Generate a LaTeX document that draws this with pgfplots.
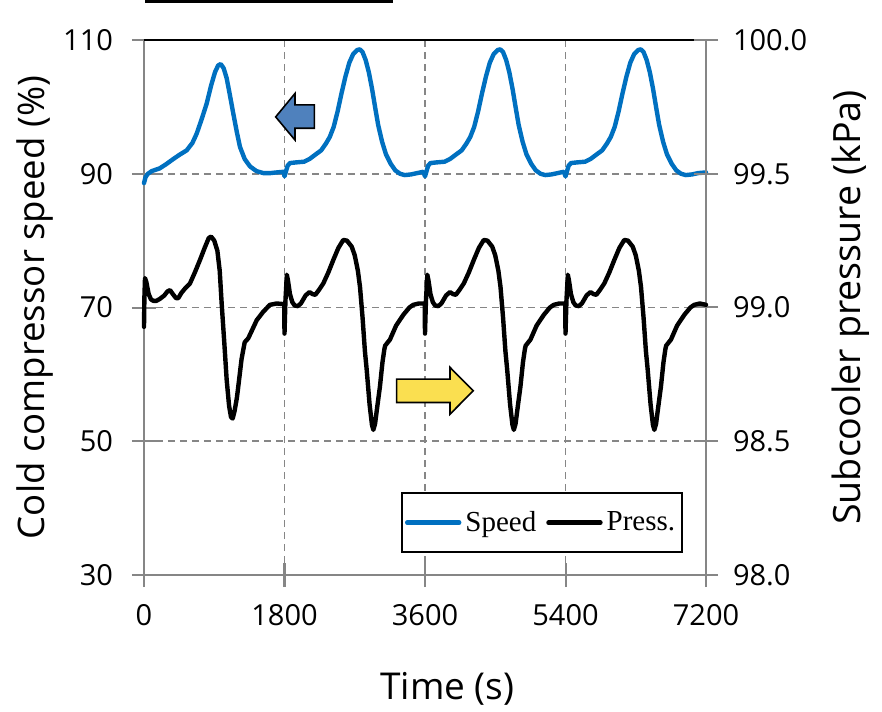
\documentclass[border=0pt]{standalone}
\usepackage{fontspec}
\setmainfont{Open Sans}
\newfontfamily\legendfont{Liberation Serif}
\usepackage{pgfplots}
\usepackage{pgfplotstable}
\pgfplotsset{compat=1.18}

\definecolor{speedblue}{HTML}{0070C0}
\definecolor{framegray}{HTML}{868686}
\definecolor{arrowblue}{HTML}{4F81BD}
\definecolor{arrowyellow}{HTML}{FADF50}

% Cold compressor speed (%) versus time (s)
\pgfplotstableread{
t v
0 88.6
20 89.5
50 90.0
100 90.4
200 90.8
280 91.4
375 92.2
450 92.8
547 93.5
620 94.6
675 96.0
740 98.2
803 100.5
860 103.2
910 105.2
950 106.2
983 106.4
1020 105.8
1059 104.3
1100 101.8
1144 99.0
1190 96.2
1230 94.0
1290 92.2
1358 91.1
1440 90.4
1528 90.1
1620 90.1
1700 90.2
1790 90.3
1800 89.6
1815 90.2
1840 91.2
1870 91.6
1950 91.7
2050 91.8
2120 92.2
2200 92.9
2270 93.5
2330 94.5
2380 95.5
2430 97.0
2480 99.3
2530 102.0
2580 104.5
2630 106.6
2680 107.9
2730 108.5
2765 108.6
2800 108.2
2840 107.0
2880 105.2
2920 102.8
2960 100.0
3000 97.3
3050 94.8
3100 92.9
3160 91.5
3220 90.5
3280 90.0
3340 89.8
3420 89.9
3500 90.1
3580 90.3
3600 89.6
3615 90.2
3640 91.2
3670 91.6
3750 91.7
3850 91.8
3920 92.2
4000 92.9
4070 93.5
4130 94.5
4180 95.5
4230 97.0
4280 99.3
4330 102.0
4380 104.5
4430 106.6
4480 107.9
4530 108.5
4565 108.6
4600 108.2
4640 107.0
4680 105.2
4720 102.8
4760 100.0
4800 97.3
4850 94.8
4900 92.9
4960 91.5
5020 90.5
5080 90.0
5140 89.8
5220 89.9
5300 90.1
5380 90.3
5400 89.6
5415 90.2
5440 91.2
5470 91.6
5550 91.7
5650 91.8
5720 92.2
5800 92.9
5870 93.5
5930 94.5
5980 95.5
6030 97.0
6080 99.3
6130 102.0
6180 104.5
6230 106.6
6280 107.9
6330 108.5
6365 108.6
6400 108.2
6440 107.0
6480 105.2
6520 102.8
6560 100.0
6600 97.3
6650 94.8
6700 92.9
6760 91.5
6820 90.5
6880 90.0
6940 89.8
7020 89.9
7100 90.1
7200 90.2
}\speeddata

% Subcooler pressure (kPa) versus time (s)
\pgfplotstableread{
t p
0 98.9275
5 99.0375
13 99.11
30 99.095
60 99.05
90 99.03
119 99.025
160 99.025
205 99.0325
260 99.045
300 99.06
333 99.065
370 99.05
410 99.035
439 99.035
480 99.055
530 99.0725
589 99.09
650 99.13
717 99.1775
780 99.225
830 99.26
860 99.265
900 99.25
940 99.2125
970 99.1375
995 99.015
1030 98.8625
1059 98.73
1090 98.6325
1115 98.59
1136 98.585
1160 98.6125
1190 98.6625
1208 98.705
1250 98.8075
1290 98.87
1336 98.885
1400 98.925
1444 98.9525
1530 98.985
1614 99.01
1700 99.015
1796 99.0125
1800 98.9025
1812 99.025
1830 99.1225
1845 99.10
1870 99.05
1900 99.02
1930 99.0075
1970 99.005
2010 99.015
2070 99.045
2120 99.0575
2160 99.05
2195 99.0475
2240 99.065
2297 99.09
2360 99.13
2425 99.1775
2490 99.2225
2553 99.2525
2600 99.25
2661 99.2275
2700 99.195
2740 99.1375
2767 99.0775
2800 98.9625
2830 98.8375
2853 98.7675
2890 98.6375
2920 98.5625
2938 98.5425
2960 98.565
2990 98.6325
3023 98.705
3055 98.795
3080 98.845
3090 98.8575
3151 98.88
3230 98.9325
3322 98.9725
3400 99.0
3450 99.01
3520 99.015
3596 99.015
3600 98.9025
3612 99.025
3630 99.1225
3645 99.10
3670 99.05
3700 99.02
3730 99.0075
3770 99.005
3810 99.015
3870 99.045
3920 99.0575
3960 99.05
3995 99.0475
4040 99.065
4097 99.09
4160 99.13
4225 99.1775
4290 99.2225
4353 99.2525
4400 99.25
4461 99.2275
4500 99.195
4540 99.1375
4567 99.0775
4600 98.9625
4630 98.8375
4653 98.7675
4690 98.6375
4720 98.5625
4738 98.5425
4760 98.565
4790 98.6325
4823 98.705
4855 98.795
4880 98.845
4890 98.8575
4951 98.88
5030 98.9325
5122 98.9725
5200 99.0
5250 99.01
5320 99.015
5396 99.015
5400 98.9025
5412 99.025
5430 99.1225
5445 99.10
5470 99.05
5500 99.02
5530 99.0075
5570 99.005
5610 99.015
5670 99.045
5720 99.0575
5760 99.05
5795 99.0475
5840 99.065
5897 99.09
5960 99.13
6025 99.1775
6090 99.2225
6153 99.2525
6200 99.25
6261 99.2275
6300 99.195
6340 99.1375
6367 99.0775
6400 98.9625
6430 98.8375
6453 98.7675
6490 98.6375
6520 98.5625
6538 98.5425
6560 98.565
6590 98.6325
6623 98.705
6655 98.795
6680 98.845
6690 98.8575
6751 98.88
6830 98.9325
6922 98.9725
7000 99.0
7050 99.01
7120 99.015
7200 99.01
}\pressdata

\pgfplotsset{
  base/.style={
    scale only axis, width=281pt, height=267.5pt,
    xmin=0, xmax=7200, clip=false,
    axis line style={framegray, line width=1pt},
    tick style={framegray, line width=1pt},
    tick align=center, major tick length=12pt,
    /pgf/number format/assume math mode=true,
    scaled ticks=false,
    ticklabel style={font=\fontsize{14.5}{17}\selectfont},
  },
  curve/.style={line width=2.2pt, line join=round, line cap=round},
}

\begin{document}
\begin{tikzpicture}
\begin{axis}[base,
  axis x line*=bottom, axis y line*=left,
  ymin=30, ymax=110, ytick={30,50,70,90,110},
  xtick={0,1800,3600,5400,7200},
  xticklabel style={/pgf/number format/1000 sep={}, yshift=-5pt},
  yticklabel style={xshift=-6pt},
  grid=major,
  major grid style={framegray, line width=0.9pt, dash pattern=on 3.5pt off 2.5pt},
  xlabel={Time (s)},
  ylabel={Cold compressor speed (\%)},
  every axis x label/.style={at={(axis description cs:0.540,-0.2131)}, anchor=center,
    font=\fontsize{18.5}{22}\selectfont},
  every axis y label/.style={at={(axis description cs:-0.1940,0.5)}, anchor=center, rotate=90,
    font=\fontsize{18.3}{22}\selectfont},
]
  \addplot[curve, speedblue] table[x=t, y=v] {\speeddata};
  % frame top edge
  \draw[black, line width=1.2pt] (axis cs:0,110) -- (axis cs:7200,110);
  % bar above the frame
  \fill[black] ([yshift=18.3pt]axis cs:13,110) rectangle ([yshift=20pt]axis cs:3190,110);
  % direction arrows: speed -> left axis, pressure -> right axis
  \filldraw[fill=arrowblue, draw=black, line width=0.8pt]
    (axis cs:1687,98.5) -- (axis cs:1934,102.0) -- (axis cs:1934,100.3)
    -- (axis cs:2182,100.3) -- (axis cs:2182,96.8) -- (axis cs:1934,96.8)
    -- (axis cs:1934,95.05) -- cycle;
  \filldraw[fill=arrowyellow, draw=black, line width=0.8pt]
    (axis cs:4219,57.55) -- (axis cs:3920,61.05) -- (axis cs:3920,59.3)
    -- (axis cs:3237,59.3) -- (axis cs:3237,55.8) -- (axis cs:3920,55.8)
    -- (axis cs:3920,54.05) -- cycle;
\end{axis}
\begin{axis}[base,
  axis x line=none, axis y line*=right,
  ymin=98, ymax=100, ytick={98,98.5,99,99.5,100},
  yticklabel style={/pgf/number format/fixed, /pgf/number format/fixed zerofill,
    /pgf/number format/precision=1, xshift=4pt},
  ylabel={Subcooler pressure (kPa)},
  every axis y label/.style={at={(axis description cs:1.2580,0.5)}, anchor=center, rotate=90,
    font=\fontsize{18.8}{22}\selectfont},
  legend columns=2,
  legend style={at={(axis description cs:0.959,0.0411)}, anchor=south east,
    draw=black, line width=0.8pt, fill=white,
    font=\legendfont\fontsize{14.5}{17}\selectfont,
    inner xsep=1.5pt, inner ysep=7pt,
    /tikz/every even column/.append style={column sep=3pt}},
  legend image code/.code={\draw[#1, line width=2.2pt] (0pt,0pt) -- (26pt,0pt);},
]
  \addlegendimage{speedblue, line cap=round}
  \addlegendentry{Speed}
  \addplot[curve, black] table[x=t, y=p] {\pressdata};
  \addlegendentry{Press.}
\end{axis}
\pgfresetboundingbox
\path[use as bounding box] (-72pt,-68pt) rectangle (369pt,287.5pt);
\end{tikzpicture}
\end{document}
